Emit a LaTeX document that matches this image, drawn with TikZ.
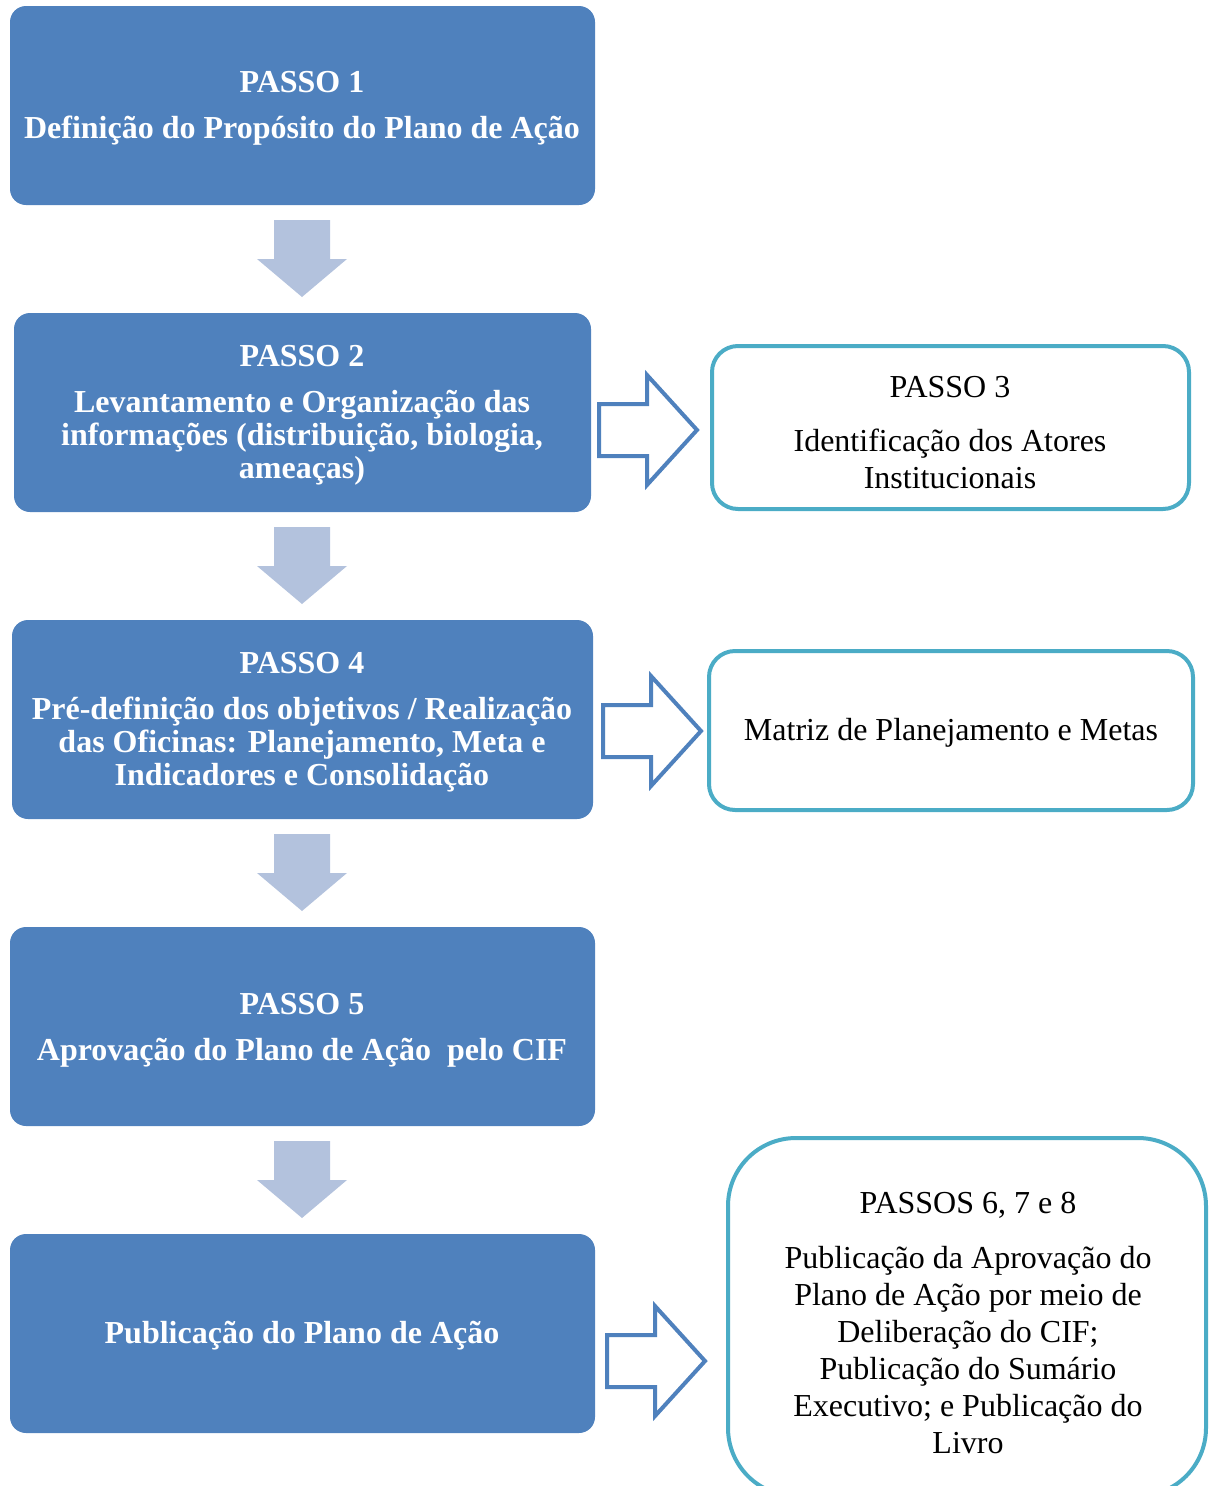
\documentclass[tikz,border=0pt]{standalone}
\usepackage{fontspec}
\setmainfont{Liberation Serif}
\definecolor{stepblue}{HTML}{4F81BD}
\definecolor{downblue}{HTML}{B3C2DD}
\definecolor{tealline}{HTML}{4BACC6}
\tikzset{
  bluebox/.style={fill=stepblue, draw=none, rounded corners=16pt},
  outbox/.style={draw=tealline, line width=4pt, fill=white, rounded corners=26pt},
  wtxt/.style={text=white, font=\fontsize{32}{33}\selectfont\bfseries, align=center, inner sep=0pt},
  btxt/.style={text=black, font=\fontsize{32}{37}\selectfont, align=center, inner sep=0pt},
  downarrow/.pic={\fill[downblue] (-28,0) -- (28,0) -- (28,39) -- (45,39) -- (0,77) -- (-45,39) -- (-28,39) -- cycle;},
  rightarrow/.pic={\draw[stepblue, line width=4pt, line join=miter, fill=white] (0,-26) -- (48,-26) -- (48,-55) -- (98,0) -- (48,55) -- (48,26) -- (0,26) -- cycle;}
}
\begin{document}
\begin{tikzpicture}[x=1pt, y=-1pt]
\useasboundingbox (0,0) rectangle (1208,1486);
\clip (0,0) rectangle (1208,1486);
% blue step boxes
\draw[bluebox] (10,6) rectangle (595,205);
\node[wtxt] (t1) at (302,82) {PASSO 1};
\node[wtxt] (d1) at (302,131) {Definição do Propósito do Plano de Ação};
\draw[bluebox] (14,313) rectangle (591,512);
\node[wtxt] (t2) at (302,356) {PASSO 2};
\node[wtxt] (d2) at (302,438) {Levantamento e Organização das\\informações (distribuição, biologia,\\ameaças)};
\draw[bluebox] (12,620) rectangle (593,819);
\node[wtxt] (t4) at (302,663) {PASSO 4};
\node[wtxt] (d4) at (302,745) {Pré-definição dos objetivos / Realização\\das Oficinas: Planejamento, Meta e\\Indicadores e Consolidação};
\draw[bluebox] (10,927) rectangle (595,1126);
\node[wtxt] (t5) at (302,1004) {PASSO 5};
\node[wtxt] (d5) at (302,1053) {Aprovação do Plano de Ação\ \ pelo CIF};
\draw[bluebox] (10,1234) rectangle (595,1433);
\node[wtxt] (d6) at (302,1336) {Publicação do Plano de Ação};
% down arrows
\pic at (302,220) {downarrow};
\pic at (302,527) {downarrow};
\pic at (302,834) {downarrow};
\pic at (302,1141) {downarrow};
% right arrows
\pic at (599,430) {rightarrow};
\pic at (603,731) {rightarrow};
\pic at (607,1361) {rightarrow};
% outline boxes
\draw[outbox] (712,346) rectangle (1189,509);
\node[btxt] (t3) at (950,387) {PASSO 3};
\node[btxt] (d3) at (950,459) {Identificação dos Atores\\Institucionais};
\draw[outbox] (709,651) rectangle (1193,810);
\node[btxt] (m) at (951,733) {Matriz de Planejamento e Metas};
\draw[outbox, rounded corners=68pt] (728,1138) rectangle (1206,1496);
\node[btxt] (t6) at (968,1205) {PASSOS 6, 7 e 8};
\node[btxt] (d7) at (968,1350) {Publicação da Aprovação do\\Plano de Ação por meio de\\Deliberação do CIF;\\Publicação do Sumário\\Executivo; e Publicação do\\Livro};
\end{tikzpicture}
\end{document}
